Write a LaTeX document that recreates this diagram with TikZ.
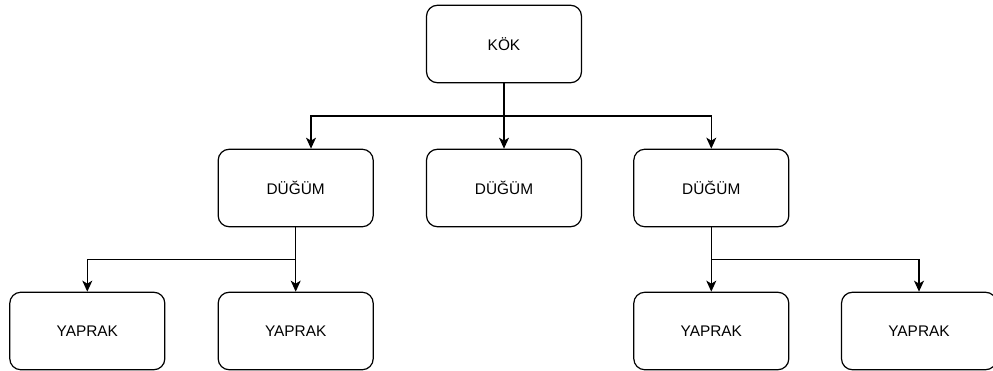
\documentclass[tikz,border=0pt]{standalone}
\usepackage{fontspec}
\setmainfont{Liberation Sans}
\usetikzlibrary{arrows.meta}
\tikzset{
  box/.style={draw, line width=1.2pt, rounded corners=11pt, minimum width=155pt, minimum height=77.5pt, inner sep=0pt, font=\fontsize{15.4pt}{18pt}\selectfont},
  ln/.style={draw, line width=1.2pt},
  arr/.style={ln, -{Stealth[length=11pt,width=10pt,inset=3pt]}},
}
\begin{document}
\begin{tikzpicture}[x=1pt,y=-1pt]
\useasboundingbox (0,0) rectangle (993,371);
\clip (0,0) rectangle (993,371);
\node[box] (kok) at (504,44) {KÖK};
\node[box] (d1) at (295.7,188) {DÜĞÜM};
\node[box] (d2) at (504,188) {DÜĞÜM};
\node[box] (d3) at (711.3,188) {DÜĞÜM};
\node[box] (y1) at (87.3,331) {YAPRAK};
\node[box] (y2) at (295.7,331) {YAPRAK};
\node[box] (y3) at (711.3,331) {YAPRAK};
\node[box] (y4) at (919,331) {YAPRAK};
\coordinate (j1) at (504,116);
\coordinate (j2) at (295.7,259.3);
\coordinate (j3) at (711.3,259.3);
\draw[ln] (kok.south) -- (j1);
\draw[arr] (j1) -- (d2.north);
\draw[arr] (j1) -| ([xshift=15.3pt]d1.north);
\draw[arr] (j1) -| (d3.north);
\draw[ln] (d1.south) -- (j2);
\draw[arr] (j2) -- (y2.north);
\draw[arr] (j2) -| (y1.north);
\draw[ln] (d3.south) -- (j3);
\draw[arr] (j3) -- (y3.north);
\draw[arr] (j3) -| (y4.north);
\end{tikzpicture}
\end{document}
